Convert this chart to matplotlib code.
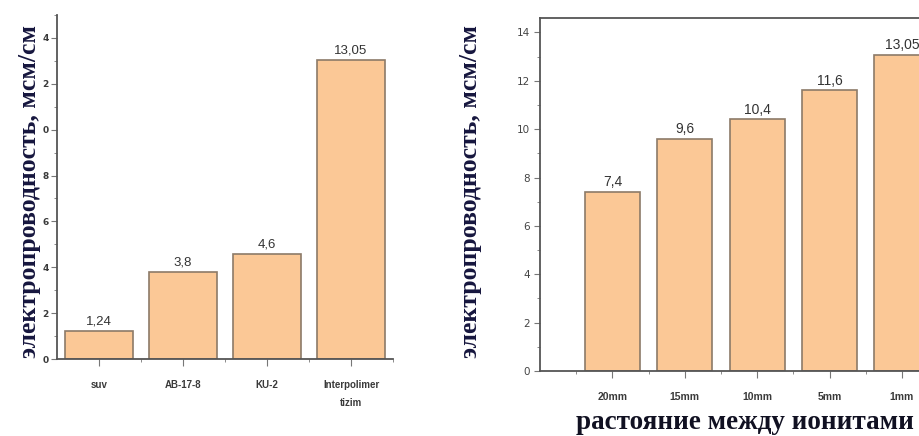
import matplotlib
matplotlib.use("Agg")
from matplotlib import pyplot as plt
from matplotlib.ticker import MultipleLocator, FixedLocator

# left chart: ionites
cat_left = ["suv", "AB-17-8", "KU-2", "Interpolimer\ntizim"]
val_left = [1.24, 3.8, 4.6, 13.05]
lab_left = ["1,24", "3,8", "4,6", "13,05"]
# y tick labels in the picture lose their first digit
ytick_left = [0, 2, 4, 6, 8, 10, 12, 14]
ytick_left_txt = ["0", "2", "4", "6", "8", "0", "2", "4"]

# right chart: distance between ionites
cat_right = ["20mm", "15mm", "10mm", "5mm", "1mm"]
val_right = [7.4, 9.6, 10.4, 11.6, 13.05]
lab_right = ["7,4", "9,6", "10,4", "11,6", "13,05"]

bar_col = "#fbc896"
edge_col = "#8c7a68"
tick_col = "#3a3a3a"
ylab_col = "#16163e"

fig = plt.figure(figsize=(9.2, 4.36), dpi=100)

ax0 = fig.add_axes([0.062, 0.1766, 0.3652, 0.789])
x0 = range(len(cat_left))
ax0.bar(x0, val_left, width=0.8, color=bar_col, edgecolor=edge_col, linewidth=1.2)
for i, (v, t) in enumerate(zip(val_left, lab_left)):
    ax0.text(i, v + 0.15, t, ha="center", va="bottom", fontsize=9.5,
             family="Liberation Sans", color="#333333")
ax0.set_xlim(-0.5, 3.5)
ax0.set_ylim(0, 15)
ax0.set_xticks(list(x0))
ax0.set_xticklabels(cat_left, fontsize=7, fontweight="bold", linespacing=2.0,
                    color=tick_col, family="Liberation Sans")
ax0.xaxis.set_minor_locator(FixedLocator([0.5, 1.5, 2.5, 3.5]))
ax0.set_yticks(ytick_left)
ax0.set_yticklabels(ytick_left_txt, fontsize=6.5, fontweight="bold", color=tick_col)
ax0.yaxis.set_minor_locator(MultipleLocator(1))
ax0.spines["top"].set_visible(False)
ax0.spines["right"].set_visible(False)
for s in ["left", "bottom"]:
    ax0.spines[s].set_color("#555555")
    ax0.spines[s].set_linewidth(1.3)
ax0.tick_params(which="both", direction="out", color="#777777")
ax0.tick_params(axis="x", which="major", length=5, pad=10)
ax0.tick_params(axis="y", which="major", length=4, pad=2)
ax0.tick_params(which="minor", length=2.5)

ax1 = fig.add_axes([0.587, 0.149, 0.45, 0.81])
x1 = range(len(cat_right))
ax1.bar(x1, val_right, width=0.76, color=bar_col, edgecolor=edge_col, linewidth=1.2)
for i, (v, t) in enumerate(zip(val_right, lab_right)):
    ax1.text(i, v + 0.12, t, ha="center", va="bottom", fontsize=10,
             family="Liberation Sans", color="#333333")
ax1.set_xlim(-1, 4.72)
ax1.set_ylim(0, 14.6)
ax1.set_xticks(list(x1))
ax1.set_xticklabels(cat_right, fontsize=7.5, fontweight="bold",
                    color=tick_col, family="Liberation Sans")
ax1.xaxis.set_minor_locator(FixedLocator([-0.5, 0.5, 1.5, 2.5, 3.5]))
ax1.set_yticks(range(0, 15, 2))
ax1.tick_params(axis="y", labelsize=7.5, labelcolor="#444444")
ax1.yaxis.set_minor_locator(MultipleLocator(1))
ax1.spines["right"].set_visible(False)
for s in ["left", "bottom", "top"]:
    ax1.spines[s].set_color("#555555")
    ax1.spines[s].set_linewidth(1.3)
ax1.tick_params(which="both", direction="out", color="#777777")
ax1.tick_params(axis="x", which="major", length=5, pad=10)
ax1.tick_params(axis="y", which="major", length=4, pad=3)
ax1.tick_params(which="minor", length=2.5)

ylab = "электропроводность, мсм/см"
fig.text(0.032, 0.56, ylab, rotation=90, ha="center", va="center",
         fontsize=18.5, fontweight="bold", family="Liberation Serif", color=ylab_col)
fig.text(0.511, 0.56, ylab, rotation=90, ha="center", va="center",
         fontsize=18.5, fontweight="bold", family="Liberation Serif", color=ylab_col)
fig.text(0.81, 0.03, "растояние между ионитами", ha="center", va="center",
         fontsize=19.5, fontweight="bold", family="Liberation Serif", color="#111122")

fig.savefig("out.png", dpi=100)
